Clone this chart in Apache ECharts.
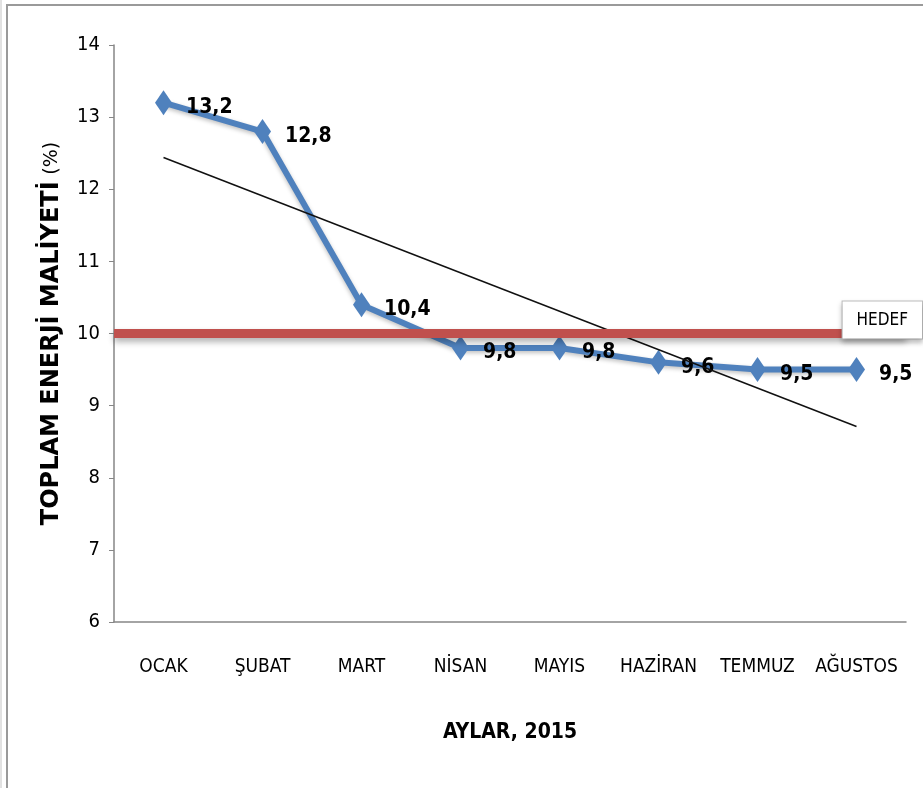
<!DOCTYPE html>
<html>
<head>
<meta charset="utf-8">
<script src="https://cdn.jsdelivr.net/npm/echarts@6/dist/echarts.min.js"></script>
<style>
  html, body { margin: 0; padding: 0; background: #fff; }
  #chart { width: 923px; height: 788px; }
</style>
</head>
<body>
<div id="chart"></div>
<script>
const months = ["OCAK", "ŞUBAT", "MART", "NİSAN", "MAYIS", "HAZİRAN", "TEMMUZ", "AĞUSTOS"]
const energyCost = [13.2, 12.8, 10.4, 9.8, 9.8, 9.6, 9.5, 9.5]
const targetValue = 10
const trendStart = 12.44
const trendEnd = 8.71
const yTicks = { min: 6, max: 14, interval: 1 }

const narrow = '"Liberation Sans Narrow", "DejaVu Sans Condensed", sans-serif'

const chart = echarts.init(document.getElementById("chart"), null, { renderer: "canvas" })

chart.setOption({
  backgroundColor: "#fff",
  animation: false,
  graphic: [
    {
      type: "rect",
      shape: { x: 7, y: 5, width: 1000, height: 1000 },
      style: { fill: "none", stroke: "#9a9a9a", lineWidth: 2 },
      silent: true,
    },
    {
      type: "line",
      shape: { x1: 1, y1: 0, x2: 1, y2: 788 },
      style: { stroke: "#c4c4c4", lineWidth: 1 },
      silent: true,
    },
  ],
  grid: { left: 114, right: 17, top: 45, bottom: 166 },
  xAxis: {
    type: "category",
    data: months,
    boundaryGap: true,
    axisLine: { lineStyle: { color: "#868686", width: 1.5 } },
    axisTick: { show: false },
    axisLabel: { color: "#000", fontFamily: narrow, fontSize: 19, margin: 36, interval: 0 },
    name: "AYLAR, 2015",
    nameLocation: "middle",
    nameGap: 100,
    nameTextStyle: { color: "#000", fontFamily: narrow, fontSize: 21, fontWeight: "bold" },
  },
  yAxis: {
    type: "value",
    min: yTicks.min,
    max: yTicks.max,
    interval: yTicks.interval,
    axisLine: { show: true, lineStyle: { color: "#868686", width: 1.5 } },
    axisTick: { show: true, length: 5, lineStyle: { color: "#868686" } },
    splitLine: { show: false },
    axisLabel: { color: "#000", fontFamily: narrow, fontSize: 20, margin: 14 },
    name: "{a|TOPLAM ENERJİ MALİYETİ}  {b|(%)}",
    nameLocation: "middle",
    nameGap: 50,
    nameRotate: 90,
    nameTextStyle: {
      rich: {
        a: { fontFamily: "DejaVu Sans", fontWeight: "bold", fontSize: 24, color: "#000" },
        b: { fontFamily: "DejaVu Sans", fontSize: 19, color: "#000" },
      },
    },
  },
  series: [
    {
      name: "Trend",
      type: "line",
      data: [],
      z: 2,
      markLine: {
        silent: true,
        symbol: "none",
        label: { show: false },
        lineStyle: { color: "#111", width: 1.5, type: "solid" },
        data: [[{ coord: [months[0], trendStart] }, { coord: [months[months.length - 1], trendEnd] }]],
      },
    },
    {
      name: "Maliyet",
      type: "line",
      data: energyCost,
      z: 3,
      symbol: "diamond",
      symbolSize: [17, 25],
      itemStyle: { color: "#4f81bd" },
      lineStyle: { color: "#4f81bd", width: 6, shadowColor: "rgba(0,0,0,0.25)", shadowBlur: 4, shadowOffsetY: 2 },
      label: {
        show: true,
        position: "right",
        distance: 14,
        offset: [0, 5],
        color: "#000",
        fontFamily: narrow,
        fontWeight: "bold",
        fontSize: 21,
        formatter: (p) => String(p.value).replace(".", ","),
      },
    },
    {
      name: "Hedef",
      type: "line",
      data: [],
      z: 5,
      markLine: {
        silent: true,
        symbol: "none",
        lineStyle: {
          color: "#c0504d",
          width: 9,
          type: "solid",
          shadowColor: "rgba(0,0,0,0.3)",
          shadowBlur: 6,
          shadowOffsetY: 4,
        },
        label: {
          show: true,
          position: "insideEndTop",
          formatter: "HEDEF",
          color: "#000",
          fontFamily: narrow,
          fontSize: 17,
          backgroundColor: "#fff",
          borderColor: "#bdbdbd",
          borderWidth: 1,
          padding: [11, 14, 9, 14],
          distance: 0,
          offset: [16, 5],
          shadowColor: "rgba(0,0,0,0.25)",
          shadowBlur: 5,
          shadowOffsetY: 3,
        },
        data: [{ yAxis: targetValue }],
      },
    },
  ],
})
</script>
</body>
</html>
